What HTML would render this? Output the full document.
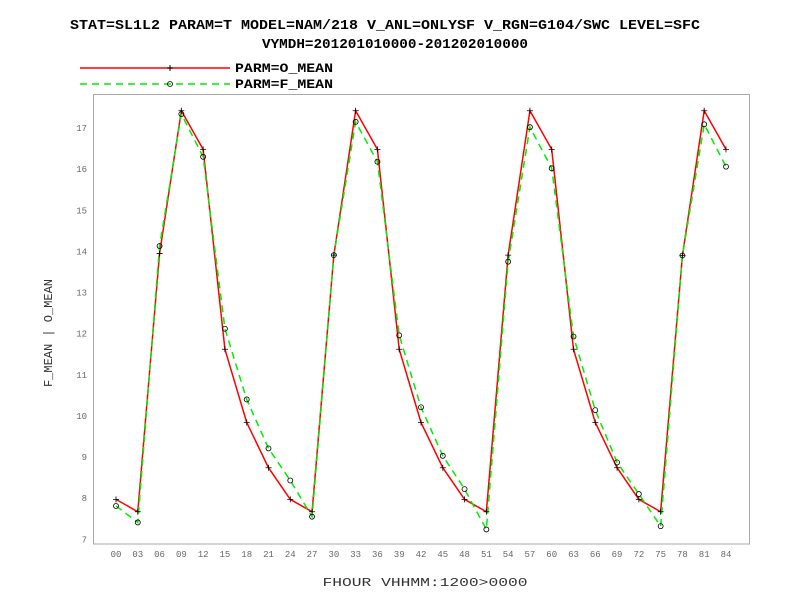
<!DOCTYPE html>
<html><head><meta charset="utf-8"><style>
body{margin:0;background:#fff;}
svg{display:block;font-family:"Liberation Mono",monospace;}
</style></head><body>
<svg id="chart" width="792" height="612">
<text x="385" y="29" text-anchor="middle" font-size="14" font-weight="bold" textLength="630" lengthAdjust="spacingAndGlyphs">STAT=SL1L2 PARAM=T MODEL=NAM/218 V_ANL=ONLYSF V_RGN=G104/SWC LEVEL=SFC</text>
<text x="395" y="48" text-anchor="middle" font-size="14" font-weight="bold" textLength="266" lengthAdjust="spacingAndGlyphs">VYMDH=201201010000-201202010000</text>
<g>
<line x1="80" y1="68" x2="230" y2="68" stroke="#f00" stroke-width="1.5"/>
<path d="M167 68h6M170 65v6" stroke="#000"/>
<text x="235" y="72" font-size="13" font-weight="bold" textLength="98" lengthAdjust="spacingAndGlyphs">PARM=O_MEAN</text>
<line x1="80" y1="84" x2="230" y2="84" stroke="#0e0" stroke-width="1.5" stroke-dasharray="7,5"/>
<circle cx="170" cy="84" r="2.5" fill="none" stroke="#000" stroke-width="0.8"/>
<text x="235" y="88" font-size="13" font-weight="bold" textLength="98" lengthAdjust="spacingAndGlyphs">PARM=F_MEAN</text>
</g>
<rect x="93.5" y="94.5" width="656" height="449.5" fill="none" stroke="#aaa"/>
<text transform="translate(52,333) rotate(-90)" text-anchor="middle" font-size="12" fill="#333">F_MEAN | O_MEAN</text>
<text x="425" y="586" text-anchor="middle" font-size="12" fill="#333" textLength="205" lengthAdjust="spacingAndGlyphs">FHOUR VHHMM:1200&gt;0000</text>
<g id="ticks"></g>
<g id="series"></g>
</svg>
<script>
const hours=[0,3,6,9,12,15,18,21,24,27,30,33,36,39,42,45,48,51,54,57,60,63,66,69,72,75,78,81,84];
const xTickLabels=["00","03","06","09","12","15","18","21","24","27","30","33","36","39","42","45","48","51","54","57","60","63","66","69","72","75","78","81","84"];
const yTicks=[7,8,9,10,11,12,13,14,15,16,17];
const oMean=[7.97,7.67,13.95,17.42,16.48,11.62,9.84,8.74,7.97,7.67,13.91,17.42,16.48,11.62,9.84,8.74,7.97,7.67,13.91,17.42,16.48,11.62,9.84,8.74,7.97,7.67,13.9,17.42,16.48];
const fMean=[7.81,7.41,14.13,17.34,16.30,12.12,10.40,9.21,8.43,7.55,13.91,17.15,16.18,11.96,10.21,9.03,8.22,7.24,13.75,17.02,16.02,11.93,10.14,8.87,8.10,7.32,13.9,17.09,16.06];
const NS='http://www.w3.org/2000/svg';
function xS(h){return 116+h*(610/84);}
function yS(v){return 539.3-(v-7)*41.13;}
function mk(t,a,p){const e=document.createElementNS(NS,t);for(const k in a)e.setAttribute(k,a[k]);p.appendChild(e);return e;}
const tg=document.getElementById('ticks'),sg=document.getElementById('series');
yTicks.forEach(v=>{const t=mk('text',{x:87,y:yS(v)+3,'text-anchor':'end','font-size':'9',fill:'#666'},tg);t.textContent=v;

});
hours.forEach((h,i)=>{const t=mk('text',{x:xS(h),y:557,'text-anchor':'middle','font-size':'9',fill:'#666'},tg);t.textContent=xTickLabels[i];

});
function pts(a){return a.map((v,i)=>xS(hours[i])+','+yS(v)).join(' ');}
const lo=mk('polyline',{points:pts(oMean),fill:'none',stroke:'#f00','stroke-width':1.5},sg);


const lf=mk('polyline',{points:pts(fMean),fill:'none',stroke:'#0e0','stroke-width':1.5,'stroke-dasharray':'7,5'},sg);


oMean.forEach((v,i)=>{const x=xS(hours[i]),y=yS(v);const p=mk('path',{d:`M${x-3} ${y}h6M${x} ${y-3}v6`,stroke:'#000','stroke-width':0.8},sg);

});
fMean.forEach((v,i)=>{const c=mk('circle',{cx:xS(hours[i]),cy:yS(v),r:2.5,fill:'none',stroke:'#000','stroke-width':0.8},sg);

});
</script>
</body></html>
